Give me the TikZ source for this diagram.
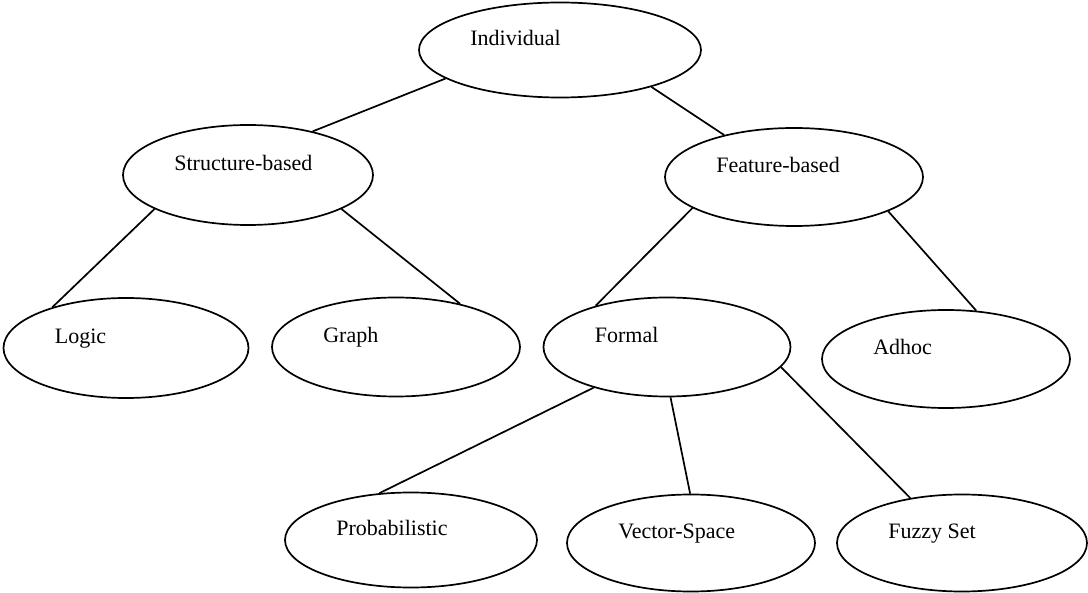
\documentclass[tikz,border=0pt]{standalone}
\usepackage{fontspec}
\setmainfont{Liberation Serif}
\usetikzlibrary{shapes.geometric,calc}

\tikzset{
  oval/.style={draw=black, line width=1.7pt, ellipse, inner sep=0pt, fill=white},
  lbl/.style={inner sep=0pt, anchor=base west, font=\fontsize{22}{26}\selectfont},
  link/.style={draw=black, line width=1.7pt},
}

% \category{name}{cx}{cy}{width}{height}{label}
\newcommand{\category}[6]{%
  \node[oval, minimum width=#4pt, minimum height=#5pt] (#1) at (#2,#3) {};
  \node[lbl] (#1-t) at ($(#1.west)+(52,-4)$) {#6};
}

\begin{document}
\begin{tikzpicture}[x=1pt,y=-1pt]
  \useasboundingbox (0,0) rectangle (1088,593);

  \category{ind}{560}{50}{282}{95}{Individual}
  \category{str}{248}{175}{250}{100}{Structure-based}
  \category{fea}{794}{177}{258}{98}{Feature-based}
  \category{log}{126}{348}{245}{100}{Logic}
  \category{gra}{396}{347}{248}{99}{Graph}
  \category{for}{667}{347}{247}{99}{Formal}
  \category{adh}{946}{359}{248}{98}{Adhoc}
  \category{pro}{411}{540}{252}{95}{Probabilistic}
  \category{vec}{691}{543}{248}{97}{Vector-Space}
  \category{fuz}{962}{543}{250}{97}{Fuzzy Set}

  % tree edges, ending on the oval outlines
  \draw[link] (ind.-166) -- (str.34.7);
  \draw[link] (ind.-22.8) -- (fea.149.7);
  \draw[link] (str.-160.5) -- (log.151.8);
  \draw[link] (str.-20.1) -- (gra.34.5);
  \draw[link] (fea.-163.1) -- (for.150.9);
  \draw[link] (fea.-20.3) -- (adh.58.9);
  \draw[link] (for.-151.3) -- (pro.124);
  \draw[link] (for.-86.6) -- (vec.91);
  \draw[link] (for.-10.5) -- (fuz.139.9);
\end{tikzpicture}
\end{document}
